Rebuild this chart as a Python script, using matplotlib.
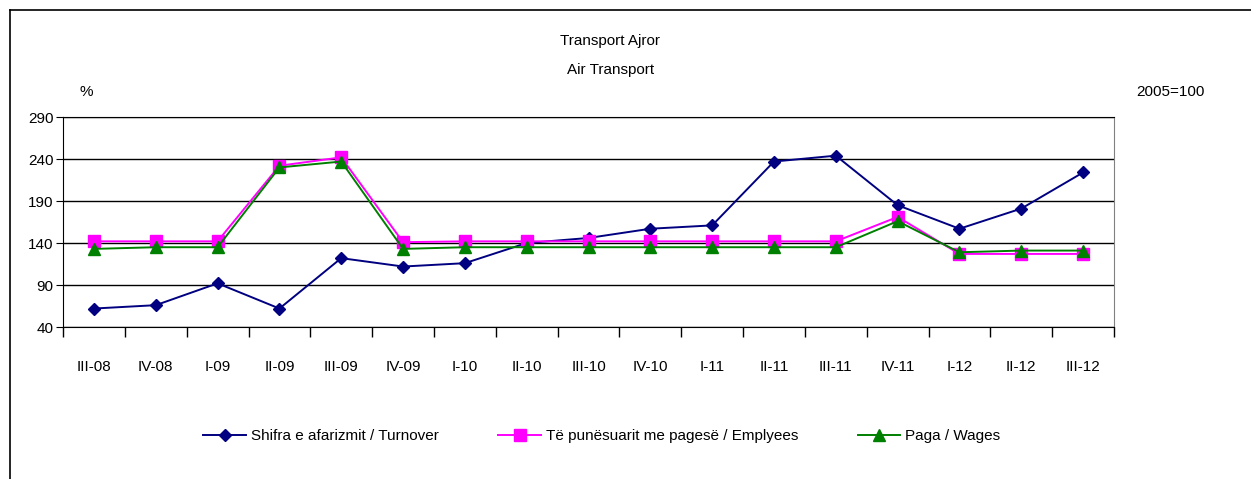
import matplotlib.pyplot as plt
import numpy as np
from matplotlib import font_manager

# data
quarters = ['III-08', 'IV-08', 'I-09', 'II-09', 'III-09', 'IV-09', 'I-10', 'II-10', 'III-10',
            'IV-10', 'I-11', 'II-11', 'III-11', 'IV-11', 'I-12', 'II-12', 'III-12']
turnover = [62, 66, 92, 62, 122, 112, 116, 140, 146, 157, 161, 237, 244, 185, 157, 181, 224]
employees = [142, 142, 142, 232, 242, 141, 142, 142, 142, 142, 142, 142, 142, 171, 127, 127, 127]
wages = [133, 135, 135, 230, 237, 133, 135, 135, 135, 135, 135, 135, 135, 166, 129, 131, 131]

names = {f.name for f in font_manager.fontManager.ttflist}
fam = 'Liberation Sans Narrow' if 'Liberation Sans Narrow' in names else 'Liberation Sans'
plt.rcParams['font.family'] = [fam, 'DejaVu Sans']
fs = 11

fig = plt.figure(figsize=(12.51, 4.79), dpi=100)
ax = fig.add_axes([0.0504, 0.3173, 0.8401, 0.4384])

x = np.arange(len(quarters))
ax.plot(x, turnover, color='#000080', marker='D', markersize=6, lw=1.4,
        label='Shifra e afarizmit / Turnover', zorder=3)
ax.plot(x, employees, color='#FF00FF', marker='s', markersize=8, lw=1.4,
        label='Të punësuarit me pagesë / Emplyees', zorder=4)
ax.plot(x, wages, color='#008000', marker='^', markersize=8, lw=1.4,
        label='Paga / Wages', zorder=5)

ax.set_xlim(-0.5, len(quarters) - 0.5)
ax.set_ylim(40, 290)
ax.set_yticks(range(40, 291, 50))
ax.yaxis.grid(True, color='black', lw=1)
ax.set_axisbelow(True)

ax.set_xticks(np.arange(-0.5, len(quarters), 1))
ax.set_xticklabels([])
ax.set_xticks(x, minor=True)
ax.set_xticklabels(quarters, minor=True, fontsize=fs)
ax.tick_params(axis='x', which='major', direction='out', length=7, width=1)
ax.tick_params(axis='x', which='minor', length=0, pad=24)
ax.tick_params(axis='y', direction='out', length=5, labelsize=fs, pad=2)

for s in ['left', 'bottom', 'top']:
    ax.spines[s].set_color('black')
ax.spines['right'].set_color('#808080')

fig.text(0.488, 0.915, 'Transport Ajror', ha='center', va='center', fontsize=fs)
fig.text(0.488, 0.853, 'Air Transport', ha='center', va='center', fontsize=fs)
fig.text(0.069, 0.808, '%', ha='center', va='center', fontsize=fs)
fig.text(0.963, 0.808, '2005=100', ha='right', va='center', fontsize=fs)

fig.legend(loc='center', bbox_to_anchor=(0.481, 0.09), ncol=3, frameon=False,
           fontsize=fs, handlelength=2.8, columnspacing=3.9, handletextpad=0.3)

# outer frame (top and left edges)
fig.add_artist(plt.Line2D([0.008, 1.0], [0.979, 0.979], color='black', lw=1.2,
                          transform=fig.transFigure))
fig.add_artist(plt.Line2D([0.008, 0.008], [0.0, 0.979], color='black', lw=1.2,
                          transform=fig.transFigure))

fig.savefig('out.png', dpi=100)
